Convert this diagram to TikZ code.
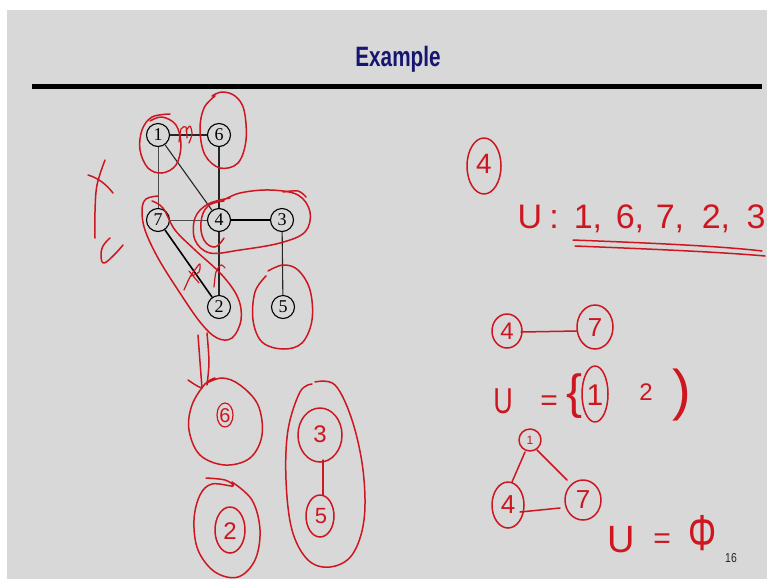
\documentclass[tikz,border=0pt]{standalone}
\usepackage{fontspec}
\setmainfont{Liberation Serif}
\setsansfont{Liberation Sans}
\newfontfamily\hand{Liberation Sans}
\definecolor{ink}{RGB}{205,22,32}
\definecolor{bg}{RGB}{216,216,216}
\definecolor{navy}{RGB}{22,22,112}
\tikzset{
  gnode/.style={circle,draw=black,line width=1.1pt,minimum size=23pt,inner sep=0pt,font=\fontsize{18}{18}\selectfont},
  gedge/.style={draw=black!85,line width=1.1pt},
  thinedge/.style={draw=black!70,line width=0.7pt},
  thickedge/.style={draw=black,line width=1.6pt},
  pen/.style={draw=ink,line width=1.5pt,line cap=round,line join=round},
  htext/.style={text=ink,inner sep=0pt,font=\hand\fontsize{#1}{#1}\selectfont},
  htext/.default=30
}
\begin{document}
\begin{tikzpicture}[x=1pt,y=-1pt]
\useasboundingbox (0,0) rectangle (767,579);
\fill[white] (0,0) rectangle (767,579);
\fill[bg] (7,10) rectangle (767,579);
% title and rule
\node[text=navy,inner sep=0pt] (title) at (398,59) {\scalebox{0.74}[1]{\sffamily\bfseries\fontsize{28}{28}\selectfont Example}};
\fill[black] (32,84) rectangle (762,89);
% graph
\node[gnode] (n1) at (158,135) {1};
\node[gnode] (n6) at (219,135) {6};
\node[gnode] (n7) at (158,220) {7};
\node[gnode] (n4) at (219,220) {4};
\node[gnode] (n3) at (282,220) {3};
\node[gnode] (n2) at (219,307) {2};
\node[gnode] (n5) at (283,307) {5};
\draw[gedge] (n1) -- (n6);
\draw[thinedge] (n1) -- (n7);
\draw[gedge] (n1) -- (n4);
\draw[gedge] (n6) -- (n4);
\draw[thinedge] (n7) -- (n4);
\draw[thickedge] (n4) -- (n3);
\draw[gedge] (n4) -- (n2);
\draw[gedge] (n3) -- (n5);
\draw[thickedge] (n7) -- (n2);
% red loops on graph
\draw[pen] plot[smooth,tension=0.6] coordinates {(170,114) (152,117) (142,130) (140,150) (148,168) (162,173) (176,165) (181,145) (176,125) (162,117) (150,121)};
\draw[pen] plot[smooth,tension=0.6] coordinates {(215,96) (204,108) (200,130) (205,155) (220,168) (238,163) (246,140) (244,110) (235,96) (222,92) (212,96)};
\draw[pen] plot[smooth,tension=0.6] coordinates {(222,201) (240,193) (270,190) (298,195) (310,212) (305,232) (280,243) (240,250) (210,253) (195,240) (195,218) (208,204) (230,198)};
\draw[pen] plot[smooth,tension=0.6] coordinates {(283,192) (298,191) (306,197)};
\draw[pen] plot[smooth,tension=0.7] coordinates {(224,201) (208,206) (201,222) (204,240) (215,247) (224,238)};
\draw[pen] plot[smooth,tension=0.6] coordinates {(158,196) (146,199) (142,210) (145,230) (158,258) (178,290) (200,322) (217,338) (232,338) (241,320) (238,298) (222,275) (195,250) (175,230) (163,208) (152,201)};
\draw[pen] plot[smooth,tension=0.6] coordinates {(268,271) (283,265) (298,270) (310,290) (312,320) (302,343) (283,349) (262,342) (253,320) (255,292) (266,276)};
% small marks on edges
\draw[pen,line width=1.2pt] plot[smooth] coordinates {(179,142) (181,129) (186,127) (187,138)};
\draw[pen,line width=1.2pt] plot[smooth] coordinates {(186,131) (190,126) (192,134) (189,143)};
\draw[pen,line width=1.2pt] plot[smooth] coordinates {(184,290) (190,277) (197,267) (200,264) (199,272) (191,276)};
\draw[pen,line width=1.2pt] (189,271) -- (199,283);
\draw[pen,line width=1.2pt] plot[smooth] coordinates {(214,287) (216,272) (221,265) (225,268)};
% T and C on left
\draw[pen] plot[smooth,tension=0.6] coordinates {(105,160) (97,185) (95,212) (95,238)};
\draw[pen] (88,175) .. controls (98,178) and (106,184) .. (113,193);
\draw[pen] plot[smooth,tension=0.7] coordinates {(110,238) (103,246) (101,256) (104,263) (114,255) (123,245)};
% arrow down
\draw[pen] plot[smooth] coordinates {(198,335) (200,362) (202,388)};
\draw[pen] plot[smooth] coordinates {(207,333) (209,362) (207,385)};
\draw[pen] (188,380) .. controls (194,384) and (198,387) .. (202,388);
% bottom-left components
\draw[pen] plot[smooth,tension=0.6] coordinates {(215,378) (205,384) (192,405) (189,430) (200,455) (225,465) (250,458) (262,435) (258,405) (240,385) (222,378) (205,384)};
\node[htext=20] (c6) at (225,416) {6};
\draw[pen,line width=1.2pt] (225,415) ellipse [x radius=8, y radius=12];
\draw[pen] plot[smooth,tension=0.6] coordinates {(206,478) (225,480) (233,486) (212,484) (200,495) (194,520) (198,550) (215,572) (238,577) (255,560) (260,530) (252,500) (232,482)};
\draw[pen] (230,530) ellipse [x radius=15, y radius=23];
\node[htext=24] (c2) at (230,531) {2};
\draw[pen] plot[smooth,tension=0.6] coordinates {(312,384) (300,392) (288,430) (286,480) (292,530) (308,560) (330,567) (352,555) (364,520) (363,470) (352,420) (335,385) (315,382)};
\draw[pen] (320,435) ellipse [x radius=22, y radius=27];
\node[htext=24] (c3) at (320,434) {3};
\draw[pen] (320,516) ellipse [x radius=14, y radius=21];
\node[htext=22] (c5) at (321,516) {5};
\path (c3) ++(3,26) coordinate (c3b) (c5) ++(2,-21) coordinate (c5t);
\draw[pen] (c3b) -- (c5t);
% right top
\draw[pen] (484,166) ellipse [x radius=17, y radius=28];
\node[htext=28] (r4) at (484,164) {4};
\node[htext=34,anchor=base] (uU) at (530,228) {U};
\node[htext=34,anchor=base] (uc) at (554,228) {:};
\node[htext=34,anchor=base] (u1) at (588,228) {1,};
\node[htext=34,anchor=base] (u6) at (630,228) {6,};
\node[htext=34,anchor=base] (u7) at (670,228) {7,};
\node[htext=34,anchor=base] (u2x) at (716,228) {2,};
\node[htext=34,anchor=base] (u3x) at (756,228) {3};
\draw[pen] (573,240) .. controls (650,243) and (720,246) .. (762,251);
\draw[pen] (575,246) .. controls (650,249) and (720,252) .. (765,256);
% right middle: edge 4-7
\node[htext=24] (a4) at (507,331) {4};
\draw[pen] (507,331) ellipse [x radius=15, y radius=17];
\node[htext=26] (a7) at (595,328) {7};
\draw[pen] (595,327) ellipse [x radius=18, y radius=22];
\path (a4) ++(14,1) coordinate (a4e) (a7) ++(-18,3) coordinate (a7w);
\draw[pen] (a4e) -- (a7w);
% U = {1 2 )
\node[htext=36] (u2) at (503,401) {\scalebox{0.75}[1]{U}};
\node[htext=30] (eq2) at (549,403) {=};
\node[htext=48] (br) at (575,396) {\{};
\node[htext=30] (b1) at (595,395) {1};
\draw[pen] (595,394) ellipse [x radius=13, y radius=28];
\node[htext=24] (b2) at (646,392) {2};
\node[htext=56] (bp) at (682,395) {)};
% triangle 1,4,7
\node[htext=12] (t1) at (530,440) {1};
\draw[pen] (530,440) circle [radius=11];
\node[htext=26] (t4) at (508,505) {4};
\draw[pen] (508,505) ellipse [x radius=16, y radius=23];
\node[htext=26] (t7) at (583,500) {7};
\draw[pen] (583,500) ellipse [x radius=18, y radius=20];
\path (t1) ++(-5,12) coordinate (t1a) (t4) ++(4,-23) coordinate (t4a);
\draw[pen] (t1a) -- (t4a);
\path (t1) ++(7,10) coordinate (t1b) (t7) ++(-16,-20) coordinate (t7b);
\draw[pen] (t1b) -- (t7b);
\path (t4) ++(12,7) coordinate (t4c) (t7) ++(-23,8) coordinate (t7c);
\draw[pen] (t4c) -- (t7c);
% U = Phi
\node[htext=38] (u3) at (621,540) {U};
\node[htext=30] (eq3) at (662,541) {=};
\node[htext=44] (phi) at (703,533) {\scalebox{0.8}[1.15]{Φ}};
% page number
\node[inner sep=0pt,text=black!85] (pg) at (731,558) {\scalebox{0.8}[1]{\sffamily\fontsize{13}{13}\selectfont 16}};
\end{tikzpicture}
\end{document}
